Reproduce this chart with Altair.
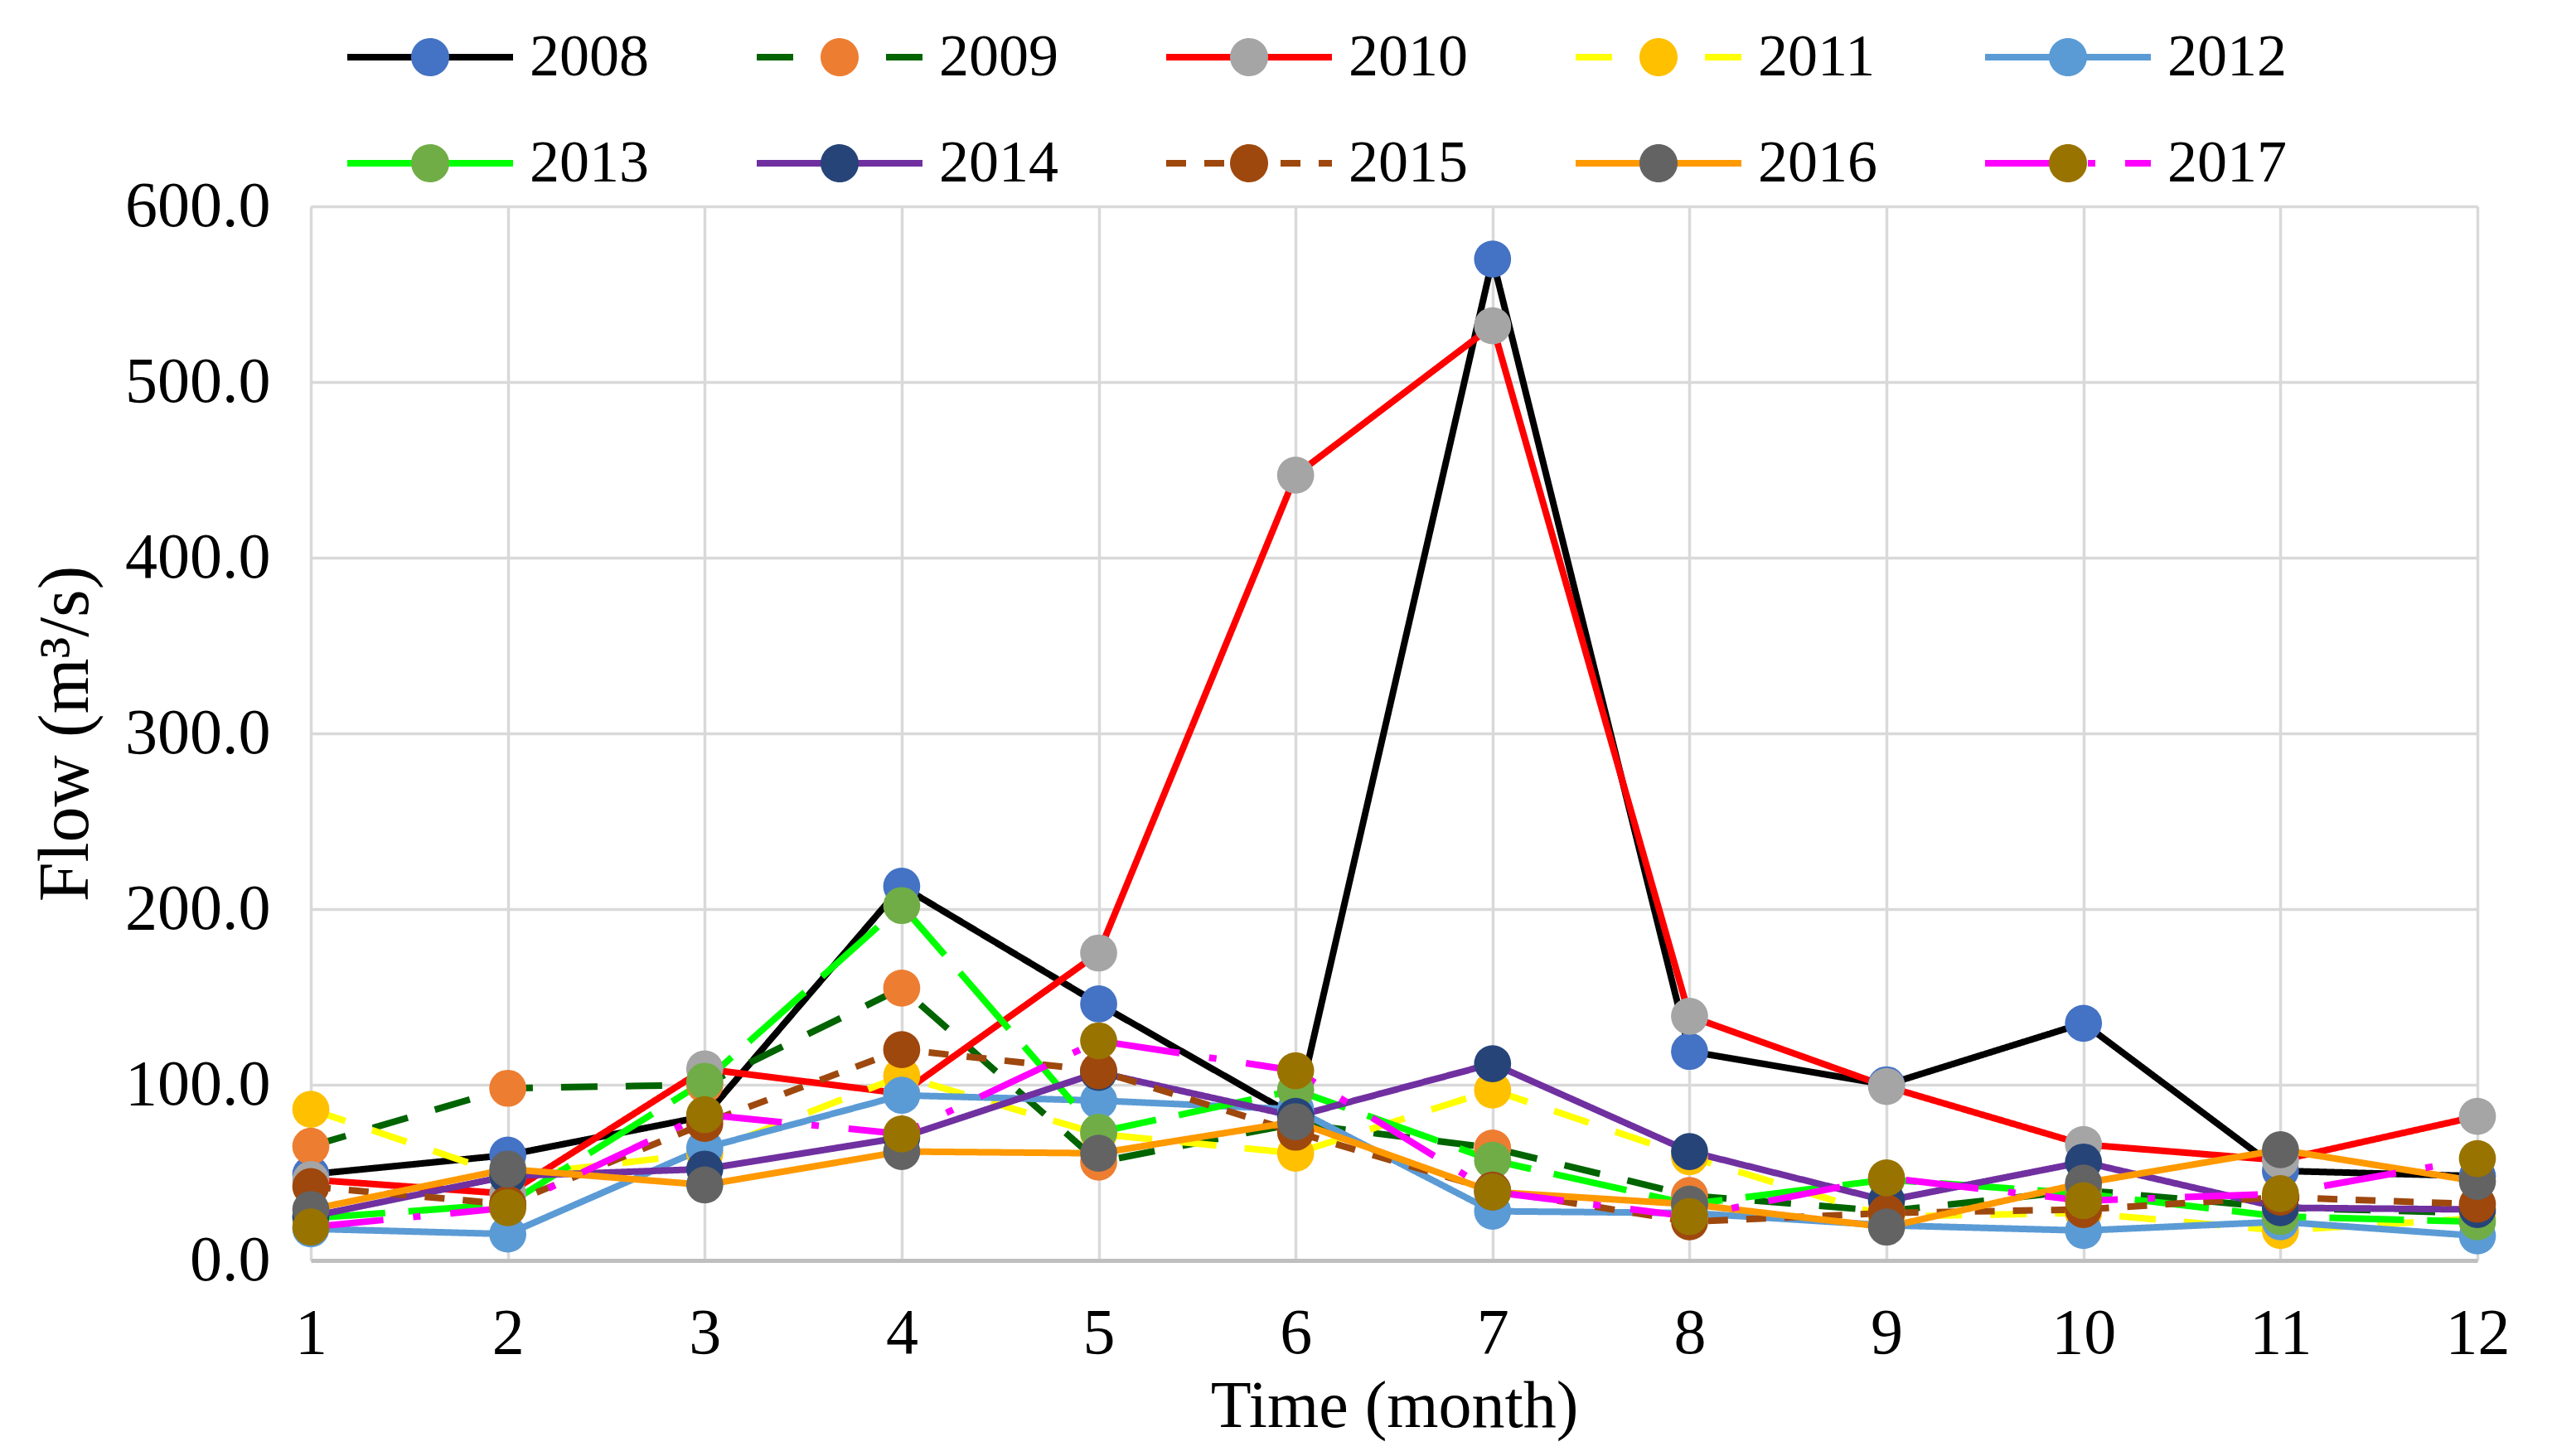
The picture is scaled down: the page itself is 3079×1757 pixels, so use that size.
import altair as alt
import pandas as pd

months = list(range(1, 13))
years = ["2008", "2009", "2010", "2011", "2012", "2013", "2014", "2015", "2016", "2017"]

flow_2008 = [49, 60, 82, 213, 146, 82, 570, 119, 100, 135, 51, 48]
flow_2009 = [65, 98, 100, 155, 56, 78, 64, 37, 28, 40, 30, 27]
flow_2010 = [46, 38, 109, 95, 175, 447, 532, 139, 99, 66, 57, 82]
flow_2011 = [86, 48, 61, 105, 72, 61, 97, 59, 25, 27, 17, 24]
flow_2012 = [18, 15, 64, 94, 91, 86, 28, 27, 20, 17, 22, 14]
flow_2013 = [24, 32, 102, 202, 73, 97, 57, 32, 46, 38, 25, 22]
flow_2014 = [25, 48, 52, 70, 107, 82, 112, 62, 34, 56, 30, 29]
flow_2015 = [42, 32, 78, 120, 108, 73, 40, 22, 27, 29, 36, 32]
flow_2016 = [29, 52, 43, 62, 61, 79, 39, 32, 19, 44, 63, 45]
flow_2017 = [19, 30, 83, 72, 125, 108, 39, 25, 47, 34, 38, 58]

series = [flow_2008, flow_2009, flow_2010, flow_2011, flow_2012,
          flow_2013, flow_2014, flow_2015, flow_2016, flow_2017]

line_colors = ["#000000", "#006400", "#FF0000", "#FFFF00", "#5B9BD5",
               "#00FF00", "#7030A0", "#9E480E", "#FF9900", "#FF00FF"]
marker_colors = ["#4472C4", "#ED7D31", "#A5A5A5", "#FFC000", "#5B9BD5",
                 "#70AD47", "#264478", "#9E480E", "#636363", "#997300"]
dashes = [[1, 0], [44, 34], [1, 0], [44, 34], [1, 0],
          [90, 28], [1, 0], [24, 22], [1, 0], [88, 36, 9, 36]]

y_ticks = [0, 100, 200, 300, 400, 500, 600]

rows = []
for i, (yr, vals) in enumerate(zip(years, series)):
    for m, v in zip(months, vals):
        rows.append({"year": yr, "month": m, "flow": v, "k": i})
df = pd.DataFrame(rows)

FONT = "Liberation Serif"
FS = 78
LW = 8

x_enc = alt.X(
    "month:Q",
    scale=alt.Scale(domain=[1, 12], nice=False, zero=False),
    axis=alt.Axis(
        values=months, title="Time (month)", ticks=False, tickSize=0,
        labelFont=FONT, labelFontSize=FS, labelColor="black", labelPadding=88,
        labelBaseline="middle", labelFlush=False,
        titleFont=FONT, titleFontSize=80, titleFontWeight="normal", titleColor="black",
        titleBaseline="middle", titleY=176,
        domainColor="#BFBFBF", domainWidth=5,
        grid=True, gridColor="#D9D9D9", gridWidth=3.5,
    ),
)
y_enc = alt.Y(
    "flow:Q",
    scale=alt.Scale(domain=[0, 600], nice=False),
    axis=alt.Axis(
        values=y_ticks, format=".1f", title="Flow (m³/s)", ticks=False, tickSize=0,
        labelFont=FONT, labelFontSize=FS, labelColor="black", labelPadding=49,
        titleFont=FONT, titleFontSize=86, titleFontWeight="normal", titleColor="black",
        titleX=-296, titleY=636, titleAngle=-90, titleAlign="center", titleBaseline="middle",
        domain=False, grid=True, gridColor="#D9D9D9", gridWidth=3.5,
    ),
)

common_legend = dict(
    orient="none", legendX=40, legendY=-210, direction="horizontal", columns=5,
    symbolSize=40000, symbolStrokeWidth=LW, symbolOffset=0,
    labelFont=FONT, labelFontSize=72, labelOffset=16,
    columnPadding=126, rowPadding=56, clipHeight=60, title=None, padding=0,
)

line_legend = alt.Legend(symbolType="stroke", labelColor="black", **common_legend)
circle_path = "M -0.23,0 A 0.23,0.23 0 1,0 0.23,0 A 0.23,0.23 0 1,0 -0.23,0 Z"
fill_legend = alt.Legend(symbolType=circle_path, symbolStrokeColor="transparent",
                         labelColor="transparent", **common_legend)

lines = alt.Chart(df).mark_line(strokeWidth=LW).encode(
    x=x_enc, y=y_enc,
    stroke=alt.Stroke("year:N", scale=alt.Scale(domain=years, range=line_colors), legend=line_legend),
    strokeDash=alt.StrokeDash("year:N", scale=alt.Scale(domain=years, range=dashes), legend=line_legend),
    order="month:Q",
)

points = alt.Chart(df).mark_circle(size=2000, opacity=1).encode(
    x=x_enc, y=y_enc,
    fill=alt.Fill("year:N", scale=alt.Scale(domain=years, range=marker_colors), legend=fill_legend),
    order="k:Q",
)

chart = alt.layer(lines, points).resolve_legend(fill="independent").properties(
    width=2614, height=1272,
    autosize=alt.AutoSizeParams(type="none"),
    padding={"left": 367, "top": 241, "right": 75, "bottom": 228},
).configure_view(stroke=None).configure(background="white")

chart.save("out.html", embed_options={"renderer": "svg", "actions": False})
